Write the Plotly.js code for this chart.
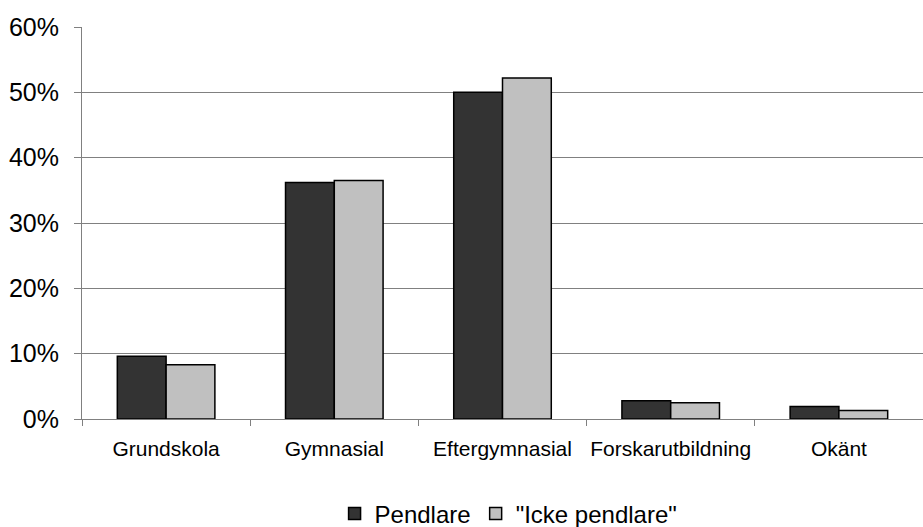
<!DOCTYPE html>
<html><head><meta charset="utf-8">
<script src="https://cdn.plot.ly/plotly-3.0.1.min.js"></script>
<style>html,body{margin:0;padding:0;background:#fff}</style>
</head><body>
<div id="chart" style="width:923px;height:527px"></div>
<script>
var categories = ["Grundskola", "Gymnasial", "Eftergymnasial", "Forskarutbildning", "Okänt"];
var pendlare = [0.096, 0.362, 0.500, 0.028, 0.019];
var ickePendlare = [0.083, 0.365, 0.522, 0.025, 0.013];
var seriesNames = ["Pendlare", "\"Icke pendlare\""];
var yTicks = [0, 0.1, 0.2, 0.3, 0.4, 0.5, 0.6];

var data = [
  {type: "bar", name: seriesNames[0], x: categories, y: pendlare,
   marker: {color: "#333333", line: {color: "#000000", width: 1.5}}},
  {type: "bar", name: seriesNames[1], x: categories, y: ickePendlare,
   marker: {color: "#c0c0c0", line: {color: "#000000", width: 1.5}}}
];
var layout = {
  width: 923, height: 527,
  margin: {l: 82, r: 0, t: 27, b: 108},
  paper_bgcolor: "#fff", plot_bgcolor: "#fff",
  font: {family: "Liberation Sans, Arial, sans-serif", color: "#000"},
  barmode: "group", bargap: 0.42, bargroupgap: 0,
  showlegend: true,
  legend: {orientation: "h", xref: "container", yref: "container",
           x: 0.551, xanchor: "center", y: 0.025, yanchor: "middle",
           font: {size: 24}, itemwidth: 30, tracegroupgap: 0},
  xaxis: {type: "category", tickson: "boundaries", ticks: "outside", ticklen: 6,
          tickcolor: "#808080", showline: true, linecolor: "#808080", linewidth: 1,
          showgrid: false, tickfont: {size: 21}, tickangle: 0, ticklabelstandoff: 11,
          automargin: false, fixedrange: true},
  yaxis: {range: [0, 0.6], tickvals: yTicks, tickformat: ".0%", ticks: "outside",
          ticklen: 7, tickcolor: "#808080", showline: true, linecolor: "#808080",
          showgrid: true, gridcolor: "#808080", gridwidth: 1, zeroline: false,
          tickfont: {size: 25}, ticklabelstandoff: 10, automargin: false,
          fixedrange: true}
};
Plotly.newPlot("chart", data, layout, {displayModeBar: false, staticPlot: true});
</script>
</body></html>
